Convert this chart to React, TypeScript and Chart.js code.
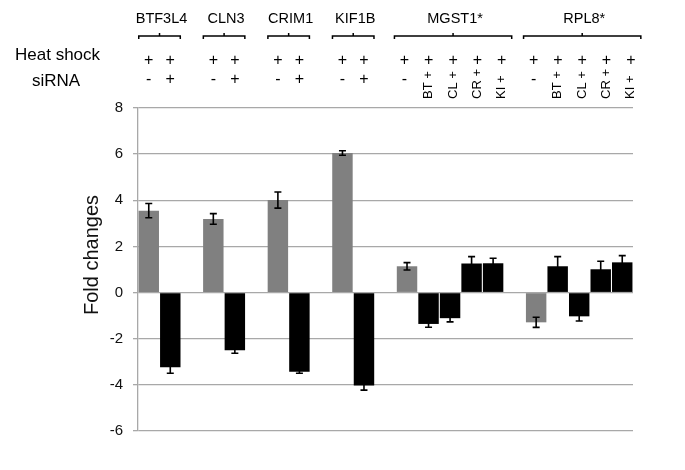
import { useEffect, useRef } from "react";
import { Chart, registerables } from "chart.js";

Chart.register(...registerables);

const FONT = '"Liberation Sans", Arial, Helvetica, sans-serif';

const geneGroups = ["BTF3L4", "CLN3", "CRIM1", "KIF1B", "MGST1*", "RPL8*"];
const groupSizes = [2, 2, 2, 2, 5, 5];
const heatShock = ["+", "+", "+", "+", "+", "+", "+", "+", "+", "+", "+", "+", "+", "+", "+", "+", "+", "+"];
const siRNA = ["-", "+", "-", "+", "-", "+", "-", "+", "-", "BT +", "CL +", "CR +", "KI +", "-", "BT +", "CL +", "CR +", "KI +"];
const foldChanges = [3.55, -3.24, 3.19, -2.5, 4.01, -3.43, 6.05, -4.03, 1.14, -1.36, -1.11, 1.26, 1.27, -1.29, 1.14, -1.03, 1.01, 1.31];
const errors = [0.31, 0.26, 0.23, 0.13, 0.35, 0.07, 0.1, 0.2, 0.16, 0.14, 0.16, 0.3, 0.22, 0.22, 0.42, 0.2, 0.35, 0.29];
const yMin = -6;
const yMax = 8;
const yStep = 2;
const yTitle = "Fold changes";
const rowLabels = ["Heat shock", "siRNA"];

const GRAY = "#808080";
const BLACK = "#000000";

// Build slots (bars + gaps between groups)
const slotLabels: string[] = [];
const slotValues: (number | null)[] = [];
const slotErrors: (number | null)[] = [];
const slotColors: string[] = [];
const slotBar: number[] = [];
const groupSlots: number[][] = [];
{
  let k = 0;
  groupSizes.forEach((n, g) => {
    const slots: number[] = [];
    for (let i = 0; i < n; i++) {
      slots.push(slotLabels.length);
      slotLabels.push(`${geneGroups[g]} ${i + 1}`);
      slotValues.push(foldChanges[k]);
      slotErrors.push(errors[k]);
      slotColors.push(siRNA[k] === "-" ? GRAY : BLACK);
      slotBar.push(k);
      k++;
    }
    groupSlots.push(slots);
    if (g < groupSizes.length - 1) {
      slotLabels.push("");
      slotValues.push(null);
      slotErrors.push(null);
      slotColors.push("rgba(0,0,0,0)");
      slotBar.push(-1);
    }
  });
}

const errorBarPlugin = {
  id: "errorBars",
  afterDatasetsDraw(chart: any) {
    const meta = chart.getDatasetMeta(0);
    const y = chart.scales.y;
    const ctx = chart.ctx;
    ctx.save();
    ctx.strokeStyle = "#000";
    ctx.lineWidth = 1.6;
    slotValues.forEach((v, i) => {
      const e = slotErrors[i];
      if (v == null || e == null) return;
      const x = meta.data[i].x;
      const yt = y.getPixelForValue(v + e);
      const yb = y.getPixelForValue(v - e);
      ctx.beginPath();
      ctx.moveTo(x, yt);
      ctx.lineTo(x, yb);
      ctx.moveTo(x - 3.5, yt);
      ctx.lineTo(x + 3.5, yt);
      ctx.moveTo(x - 3.5, yb);
      ctx.lineTo(x + 3.5, yb);
      ctx.stroke();
    });
    ctx.restore();
  },
};

const annotationPlugin = {
  id: "annotations",
  afterDraw(chart: any) {
    const meta = chart.getDatasetMeta(0);
    const ctx = chart.ctx;
    ctx.save();
    ctx.fillStyle = "#000";
    ctx.strokeStyle = "#000";

    // y-axis title
    ctx.save();
    ctx.translate(92, 255);
    ctx.rotate(-Math.PI / 2);
    ctx.font = `20px ${FONT}`;
    ctx.fillStyle = "#111";
    ctx.textAlign = "center";
    ctx.textBaseline = "middle";
    ctx.fillText(yTitle, 0, 0);
    ctx.restore();

    // row labels
    ctx.font = `17px ${FONT}`;
    ctx.textAlign = "left";
    ctx.textBaseline = "middle";
    ctx.fillText(rowLabels[0], 15, 55);
    ctx.fillText(rowLabels[1], 32, 81);

    groupSlots.forEach((slots, g) => {
      const xs = slots.map((s) => meta.data[s].x);
      const n = xs.length;
      const pitch = n > 1 ? xs[1] - xs[0] : 21.5;
      const colPitch = n > 2 ? pitch * 1.13 : pitch;
      const center = xs.reduce((a, b) => a + b, 0) / n + (n > 2 ? 3 : 0);
      const cols = xs.map((_, i) => center + (i - (n - 1) / 2) * colPitch);

      // gene label
      ctx.font = `14.5px ${FONT}`;
      ctx.textAlign = "center";
      ctx.textBaseline = "middle";
      ctx.fillText(geneGroups[g], center + 2, 19);

      // bracket
      const half = ((n - 1) / 2) * colPitch + 10;
      ctx.lineWidth = 1.5;
      ctx.beginPath();
      ctx.moveTo(center - half, 39);
      ctx.lineTo(center - half, 36);
      ctx.lineTo(center + half, 36);
      ctx.lineTo(center + half, 39);
      ctx.moveTo(center, 36);
      ctx.lineTo(center, 33);
      ctx.stroke();

      cols.forEach((cx, i) => {
        const b = slotBar[slots[i]];
        ctx.font = `16px ${FONT}`;
        ctx.textAlign = "center";
        ctx.textBaseline = "middle";
        ctx.fillText(heatShock[b], cx, 61);
        const s = siRNA[b];
        if (s.length === 1) {
          ctx.fillText(s, cx, 80);
        } else {
          ctx.save();
          ctx.translate(cx, 99);
          ctx.rotate(-Math.PI / 2);
          ctx.font = `13px ${FONT}`;
          ctx.textAlign = "left";
          ctx.textBaseline = "middle";
          ctx.fillText(s, 0, 0);
          ctx.restore();
        }
      });
    });
    ctx.restore();
  },
};

export default function App() {
  const ref = useRef<HTMLCanvasElement>(null);
  useEffect(() => {
    document.body.style.margin = "0";
    const canvas = ref.current;
    if (!canvas) return;
    const chart = new Chart(canvas, {
      type: "bar",
      data: {
        labels: slotLabels,
        datasets: [
          {
            data: slotValues as any,
            backgroundColor: slotColors,
            borderWidth: 0,
            barPercentage: 0.95,
            categoryPercentage: 1,
          },
        ],
      },
      options: {
        responsive: false,
        animation: false,
        devicePixelRatio: 1,
        layout: { padding: { left: 80, right: 52, top: 108, bottom: 39 } },
        plugins: {
          legend: { display: false },
          tooltip: { enabled: false },
        },
        scales: {
          x: {
            display: false,
            offset: true,
            grid: { display: false },
          },
          y: {
            min: yMin,
            max: yMax,
            ticks: {
              stepSize: yStep,
              padding: 10,
              color: "#111",
              font: { size: 15, family: FONT },
            },
            grid: { color: "#a8a8a8", lineWidth: 1.3, tickLength: 5 },
            border: { color: "#a8a8a8", width: 1.3 },
            title: { display: false },
            afterFit: (s: any) => {
              s.width = 58;
            },
          },
        },
      },
      plugins: [errorBarPlugin, annotationPlugin],
    });
    return () => chart.destroy();
  }, []);
  return (
    <div style={{ position: "absolute", left: 0, top: 0, width: 685, height: 470, background: "#fff" }}>
      <canvas ref={ref} width={685} height={470} />
    </div>
  );
}
